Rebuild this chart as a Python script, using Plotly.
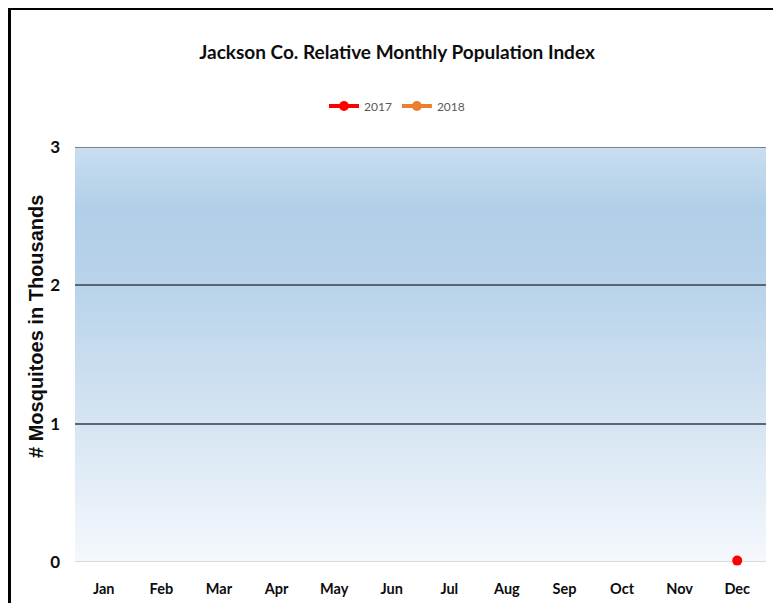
import plotly.graph_objects as go

months = ["Jan", "Feb", "Mar", "Apr", "May", "Jun", "Jul", "Aug", "Sep", "Oct", "Nov", "Dec"]
values_2017 = [None, None, None, None, None, None, None, None, None, None, None, 0.01]
values_2018 = [None] * 12
y_ticks = [0, 1, 2, 3]

title_text = "Jackson Co. Relative Monthly Population Index"
y_title = "# Mosquitoes in Thousands"

# page body adds an 8px offset; the figure is laid out in its own pixels
W, H = 765, 595
L, R, T, B = 67, 7, 139, 41
pw = W - L - R
ph = H - T - B

LATO = "Lato, Carlito, Calibri, sans-serif"

fig = go.Figure()
fig.add_trace(go.Scatter(x=months, y=values_2017, name="2017", mode="lines+markers",
                         line=dict(color="#ff0000", width=4), cliponaxis=False,
                         marker=dict(color="#ff0000", size=10)))
fig.add_trace(go.Scatter(x=months, y=values_2018, name="2018", mode="lines+markers",
                         line=dict(color="#ed7d31", width=4), cliponaxis=False,
                         marker=dict(color="#ed7d31", size=10)))

# gradient background (style only)
stops = [(0.0, (245, 248, 252)), (1.0, (214, 229, 243)), (2.0, (184, 211, 234)),
         (2.55, (177, 207, 233)), (3.0, (201, 221, 239))]
def col(v):
    for (a, ca), (b, cb) in zip(stops[:-1], stops[1:]):
        if a <= v <= b:
            t = (v - a) / (b - a)
            return "rgb(%d,%d,%d)" % tuple(round(ca[i] + (cb[i] - ca[i]) * t) for i in range(3))
    return "rgb(%d,%d,%d)" % stops[-1][1]

shapes = []
n = 140
for i in range(n):
    y0 = 3 * i / n
    y1 = 3 * (i + 1) / n
    shapes.append(dict(type="rect", xref="paper", yref="y", x0=0, x1=1, y0=y0, y1=min(3, y1 + 0.01),
                       fillcolor=col((y0 + y1) / 2), line=dict(width=0), layer="below"))
# light baseline and top gridline
shapes.append(dict(type="line", xref="paper", yref="y", x0=0, x1=1, y0=0, y1=0,
                   line=dict(color="#d0d0d0", width=1.5), layer="below"))
shapes.append(dict(type="line", xref="paper", yref="y", x0=0, x1=1, y0=3, y1=3,
                   line=dict(color="#5a6670", width=1.5), layer="above"))
# frame lines at top and left of the picture
shapes.append(dict(type="line", xref="paper", yref="paper",
                   x0=(0 - L) / pw, x1=(W - L) / pw, y0=(H - B - 0.5) / ph, y1=(H - B - 0.5) / ph,
                   line=dict(color="black", width=3)))
shapes.append(dict(type="line", xref="paper", yref="paper",
                   x0=(1.5 - L) / pw, x1=(1.5 - L) / pw, y0=(H - B) / ph, y1=-B / ph,
                   line=dict(color="black", width=3)))

fig.update_layout(
    width=W, height=H,
    margin=dict(l=L, r=R, t=T, b=B),
    paper_bgcolor="white", plot_bgcolor="rgba(0,0,0,0)",
    title=dict(text="<b>" + title_text + "</b>", x=389 / W, xanchor="center",
               y=1 - 44 / H, yanchor="middle",
               font=dict(family=LATO, size=19, color="#0d0d0d")),
    legend=dict(orientation="h", x=(389 - L) / pw, xanchor="center", y=(H - B - 98) / ph, yanchor="middle",
                font=dict(family=LATO, size=12, color="#595959"),
                itemwidth=30, tracegroupgap=0, bgcolor="rgba(0,0,0,0)"),
    xaxis=dict(type="category", range=[-0.5, 11.5], showgrid=False, zeroline=False, showline=False, ticks="",
               tickvals=months, ticktext=["<b>" + m + "</b>" for m in months],
               tickfont=dict(family=LATO, size=14.5, color="#0d0d0d"),
               ticklabelstandoff=16),
    yaxis=dict(range=[0, 3], tickvals=y_ticks, ticktext=["<b>%d</b>" % v for v in y_ticks],
               showgrid=True, gridcolor="#5a6670", gridwidth=1.5, zeroline=False,
               showline=False, ticks="", ticklabelstandoff=14,
               tickfont=dict(family=LATO, size=17, color="#0d0d0d")),
    shapes=shapes,
    annotations=[dict(text="<b>" + y_title + "</b>", textangle=-90, showarrow=False,
                      xref="paper", yref="paper", x=(28 - L) / pw, y=(H - B - 319) / ph,
                      xanchor="center", yanchor="middle",
                      font=dict(family="Liberation Sans, Arial, sans-serif", size=20, color="#0d0d0d"))],
    showlegend=True,
)

fig.write_html("out.html")
